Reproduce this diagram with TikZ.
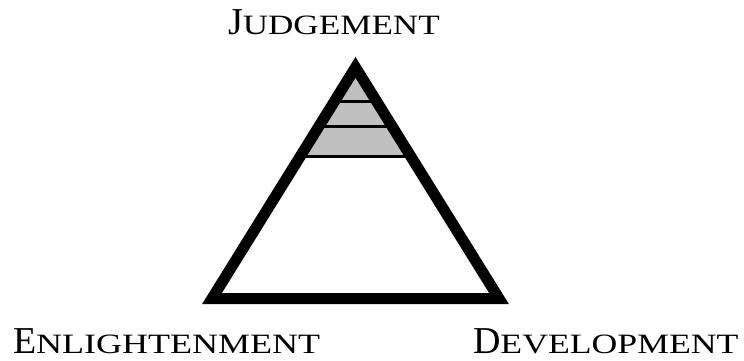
\documentclass[tikz,border=0pt]{standalone}
\usepackage{fontspec}
\setmainfont{Liberation Serif}
\usepackage{graphicx}
\newcommand{\capbig}[1]{{\fontsize{38}{38}\selectfont #1}}
\newcommand{\scpart}[2]{\resizebox{#1pt}{\height}{\fontsize{28}{28}\selectfont #2}}
\begin{document}
\begin{tikzpicture}[x=1pt,y=-1pt,
  wordlbl/.style={anchor=base west,inner sep=0pt,outer sep=0pt},
  frame/.style={line width=11pt,line join=miter,miter limit=10},
  band/.style={line width=3pt}]
\useasboundingbox (0,0) rectangle (744,361);
\definecolor{bandgray}{RGB}{192,192,192}
\coordinate (A) at (355.5,67.4);
\coordinate (L) at (212,298.5);
\coordinate (R) at (499,298.5);
\fill[bandgray] (A) -- (300.5,156) -- (410.5,156) -- cycle;
\coordinate (b1l) at (334.2,101.7); \coordinate (b1r) at (376.8,101.7);
\coordinate (b2l) at (318.7,126.7); \coordinate (b2r) at (392.3,126.7);
\coordinate (b3l) at (300.5,156); \coordinate (b3r) at (410.5,156);
\draw[band] (b1l) -- (b1r);
\draw[band] (b2l) -- (b2r);
\draw[band] (b3l) -- (b3r);
\draw[frame] (A) -- (L) -- (R) -- cycle;
\node[wordlbl] (j) at (228,35) {\capbig{J}\scpart{197}{UDGEMENT}};
\node[wordlbl] (e) at (13,353) {\capbig{E}\scpart{284}{NLIGHTENMENT}};
\node[wordlbl] (d) at (473,353) {\capbig{D}\scpart{238}{EVELOPMENT}};
\end{tikzpicture}
\end{document}
